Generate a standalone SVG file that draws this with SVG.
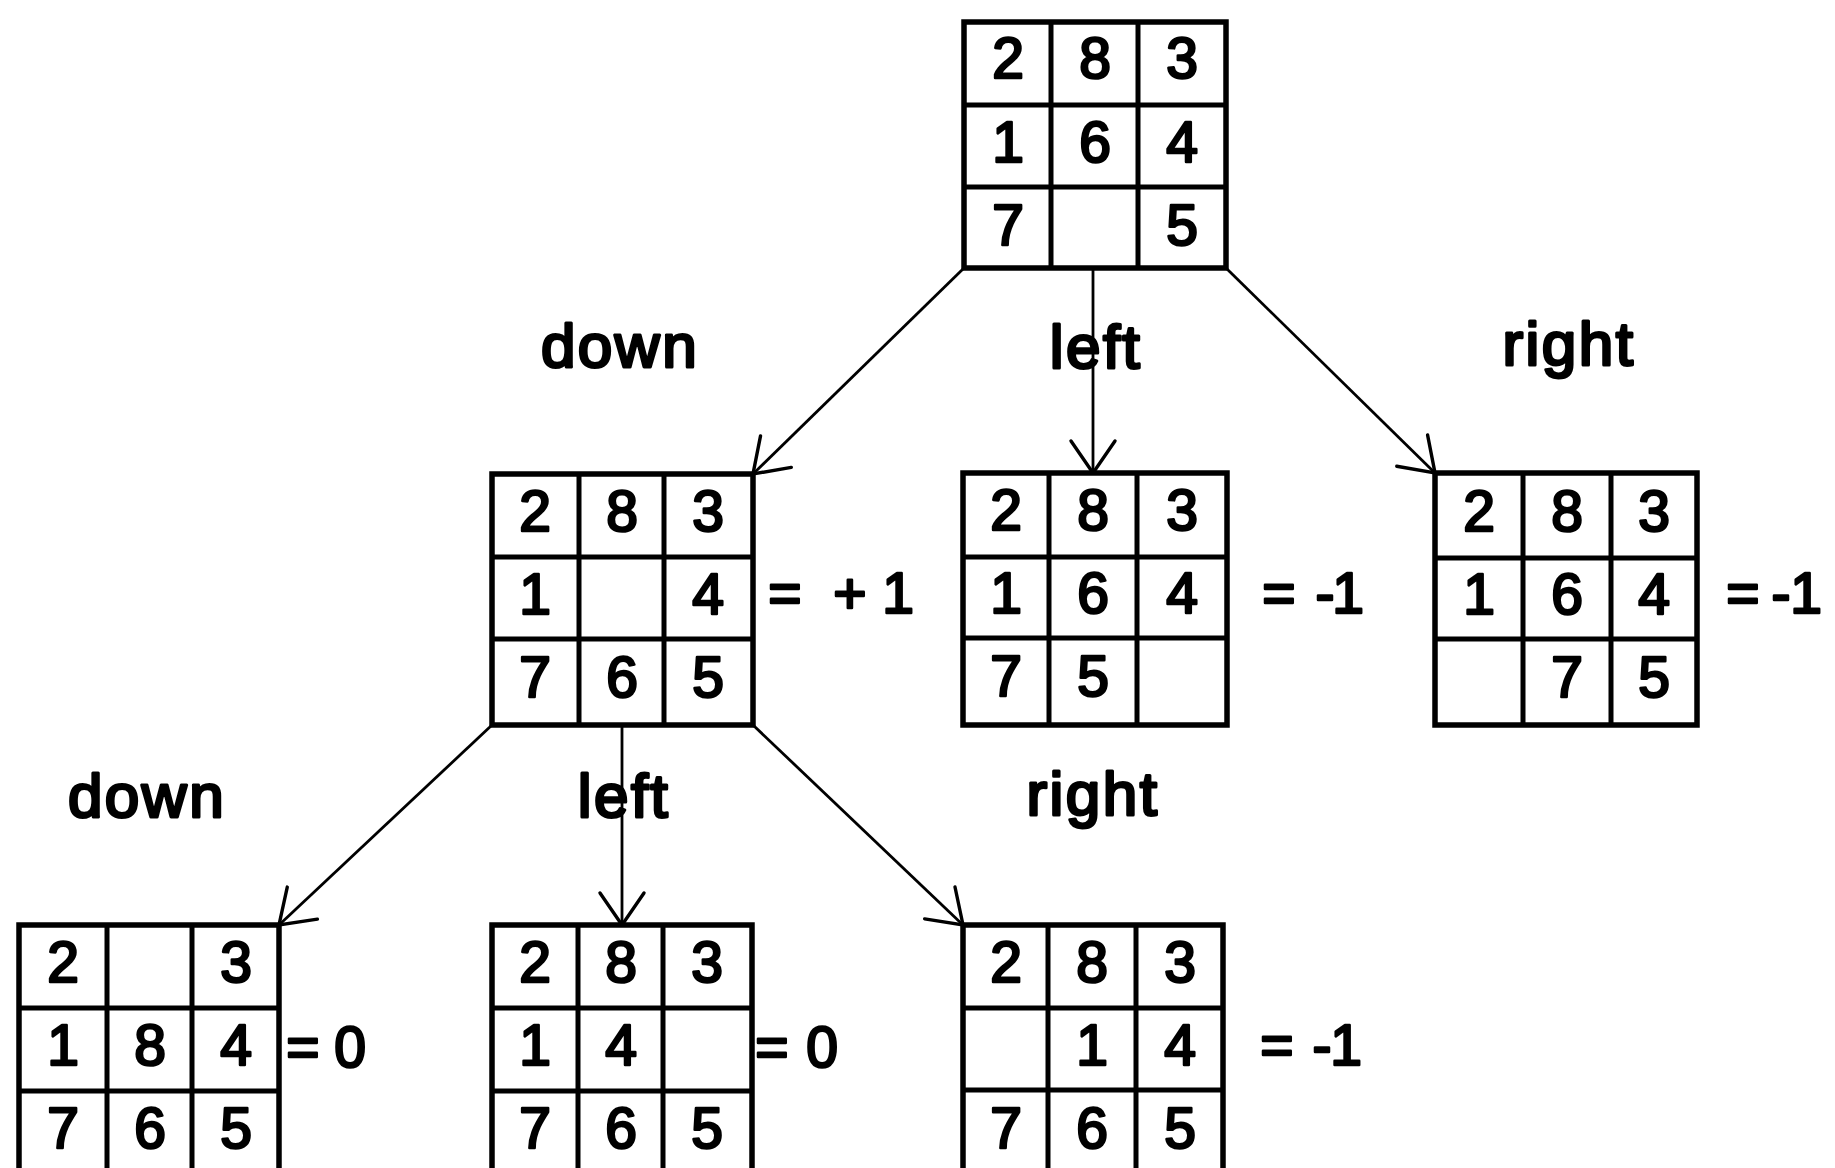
<svg xmlns="http://www.w3.org/2000/svg" width="1835" height="1168" viewBox="0 0 1835 1168">
<style>
.frame{fill:#fff;stroke:#000;stroke-width:5.5}
.div{stroke:#000;stroke-width:5}
.d{font-family:"Liberation Sans",Arial,sans-serif;font-size:57px;text-anchor:middle;fill:#000;stroke:#000;stroke-width:2.6;stroke-linejoin:round}
.lbl{font-family:"Liberation Sans",Arial,sans-serif;font-size:62px;letter-spacing:2.5px;text-anchor:middle;fill:#000;stroke:#000;stroke-width:3;stroke-linejoin:round}
.val{font-family:"Liberation Sans",Arial,sans-serif;font-size:57px;text-anchor:middle;fill:#000;stroke:#000;stroke-width:2.6;stroke-linejoin:round}
.edge{stroke:#000;stroke-width:2.8;fill:none;marker-end:url(#v)}
</style>
<defs>
<marker id="v" markerUnits="userSpaceOnUse" markerWidth="60" markerHeight="60" viewBox="-45 -30 60 60" refX="0" refY="0" orient="auto">
<path d="M-32,-22 L0,0 L-32,22" fill="none" stroke="#000" stroke-width="3.4" stroke-linecap="round"/>
</marker>
</defs>
<rect width="1835" height="1168" fill="#fff"/>

<g id="connectors">
<line class="edge" x1="964" y1="268" x2="753" y2="474"/>
<line class="edge" x1="1093" y1="268" x2="1093" y2="473"/>
<line class="edge" x1="1226" y1="268" x2="1435" y2="473"/>
<line class="edge" x1="492" y1="725" x2="279" y2="925"/>
<line class="edge" x1="622" y1="725" x2="622" y2="925"/>
<line class="edge" x1="753" y1="725" x2="963" y2="925"/>
</g>

<g id="labels">
<text class="lbl" x="620" y="367">down</text>
<text class="lbl" x="1096" y="368">left</text>
<text class="lbl" x="1569" y="365">right</text>
<text class="lbl" x="147" y="817">down</text>
<text class="lbl" x="624" y="817">left</text>
<text class="lbl" x="1093" y="815">right</text>
</g>

<g id="root">
<rect class="frame" x="964" y="22" width="262" height="246"/>
<line class="div" x1="1051" y1="22" x2="1051" y2="268"/>
<line class="div" x1="1138" y1="22" x2="1138" y2="268"/>
<line class="div" x1="964" y1="105" x2="1226" y2="105"/>
<line class="div" x1="964" y1="187" x2="1226" y2="187"/>
<text class="d" x="1008" y="78">2</text><text class="d" x="1095" y="78">8</text><text class="d" x="1182" y="78">3</text>
<text class="d" x="1008" y="162">1</text><text class="d" x="1095" y="162">6</text><text class="d" x="1182" y="162">4</text>
<text class="d" x="1008" y="245">7</text><text class="d" x="1182" y="245">5</text>
</g>

<g id="n-down">
<rect class="frame" x="492" y="474" width="261" height="251"/>
<line class="div" x1="579" y1="474" x2="579" y2="725"/>
<line class="div" x1="664" y1="474" x2="664" y2="725"/>
<line class="div" x1="492" y1="557" x2="753" y2="557"/>
<line class="div" x1="492" y1="639" x2="753" y2="639"/>
<text class="d" x="535" y="531">2</text><text class="d" x="622" y="531">8</text><text class="d" x="708" y="531">3</text>
<text class="d" x="535" y="614">1</text><text class="d" x="708" y="614">4</text>
<text class="d" x="535" y="697">7</text><text class="d" x="622" y="697">6</text><text class="d" x="708" y="697">5</text>
<text class="val"><tspan x="785" y="613">=</tspan><tspan x="850" y="613">+</tspan><tspan x="898" y="613">1</tspan></text>
</g>

<g id="n-left">
<rect class="frame" x="963" y="473" width="264" height="252"/>
<line class="div" x1="1049" y1="473" x2="1049" y2="725"/>
<line class="div" x1="1137" y1="473" x2="1137" y2="725"/>
<line class="div" x1="963" y1="557" x2="1227" y2="557"/>
<line class="div" x1="963" y1="638" x2="1227" y2="638"/>
<text class="d" x="1006" y="530">2</text><text class="d" x="1093" y="530">8</text><text class="d" x="1182" y="530">3</text>
<text class="d" x="1006" y="613">1</text><text class="d" x="1093" y="613">6</text><text class="d" x="1182" y="613">4</text>
<text class="d" x="1006" y="696">7</text><text class="d" x="1093" y="696">5</text>
<text class="val"><tspan x="1279" y="613">=</tspan><tspan x="1325" y="613">-</tspan><tspan x="1348" y="613">1</tspan></text>
</g>

<g id="n-right">
<rect class="frame" x="1435" y="473" width="262" height="252"/>
<line class="div" x1="1523" y1="473" x2="1523" y2="725"/>
<line class="div" x1="1611" y1="473" x2="1611" y2="725"/>
<line class="div" x1="1435" y1="558" x2="1697" y2="558"/>
<line class="div" x1="1435" y1="639" x2="1697" y2="639"/>
<text class="d" x="1479" y="531">2</text><text class="d" x="1567" y="531">8</text><text class="d" x="1654" y="531">3</text>
<text class="d" x="1479" y="614">1</text><text class="d" x="1567" y="614">6</text><text class="d" x="1654" y="614">4</text>
<text class="d" x="1567" y="697">7</text><text class="d" x="1654" y="697">5</text>
<text class="val"><tspan x="1743" y="613">=</tspan><tspan x="1781" y="613">-</tspan><tspan x="1806" y="613">1</tspan></text>
</g>

<g id="n-down-down">
<rect class="frame" x="19" y="925" width="260" height="250"/>
<line class="div" x1="107" y1="925" x2="107" y2="1175"/>
<line class="div" x1="192" y1="925" x2="192" y2="1175"/>
<line class="div" x1="19" y1="1008" x2="279" y2="1008"/>
<line class="div" x1="19" y1="1091" x2="279" y2="1091"/>
<text class="d" x="63" y="982">2</text><text class="d" x="236" y="982">3</text>
<text class="d" x="63" y="1065">1</text><text class="d" x="150" y="1065">8</text><text class="d" x="236" y="1065">4</text>
<text class="d" x="63" y="1148">7</text><text class="d" x="150" y="1148">6</text><text class="d" x="236" y="1148">5</text>
<text class="val"><tspan x="303" y="1067">=</tspan><tspan x="350" y="1067">0</tspan></text>
</g>

<g id="n-down-left">
<rect class="frame" x="492" y="925" width="260" height="250"/>
<line class="div" x1="578" y1="925" x2="578" y2="1175"/>
<line class="div" x1="663" y1="925" x2="663" y2="1175"/>
<line class="div" x1="492" y1="1008" x2="752" y2="1008"/>
<line class="div" x1="492" y1="1091" x2="752" y2="1091"/>
<text class="d" x="535" y="982">2</text><text class="d" x="621" y="982">8</text><text class="d" x="707" y="982">3</text>
<text class="d" x="535" y="1065">1</text><text class="d" x="621" y="1065">4</text>
<text class="d" x="535" y="1148">7</text><text class="d" x="621" y="1148">6</text><text class="d" x="707" y="1148">5</text>
<text class="val"><tspan x="772" y="1067">=</tspan><tspan x="822" y="1067">0</tspan></text>
</g>

<g id="n-down-right">
<rect class="frame" x="963" y="925" width="260" height="250"/>
<line class="div" x1="1048" y1="925" x2="1048" y2="1175"/>
<line class="div" x1="1136" y1="925" x2="1136" y2="1175"/>
<line class="div" x1="963" y1="1008" x2="1223" y2="1008"/>
<line class="div" x1="963" y1="1090" x2="1223" y2="1090"/>
<text class="d" x="1006" y="982">2</text><text class="d" x="1092" y="982">8</text><text class="d" x="1180" y="982">3</text>
<text class="d" x="1092" y="1065">1</text><text class="d" x="1180" y="1065">4</text>
<text class="d" x="1006" y="1148">7</text><text class="d" x="1092" y="1148">6</text><text class="d" x="1180" y="1148">5</text>
<text class="val"><tspan x="1277" y="1065">=</tspan><tspan x="1322" y="1065">-</tspan><tspan x="1346" y="1065">1</tspan></text>
</g>
</svg>
